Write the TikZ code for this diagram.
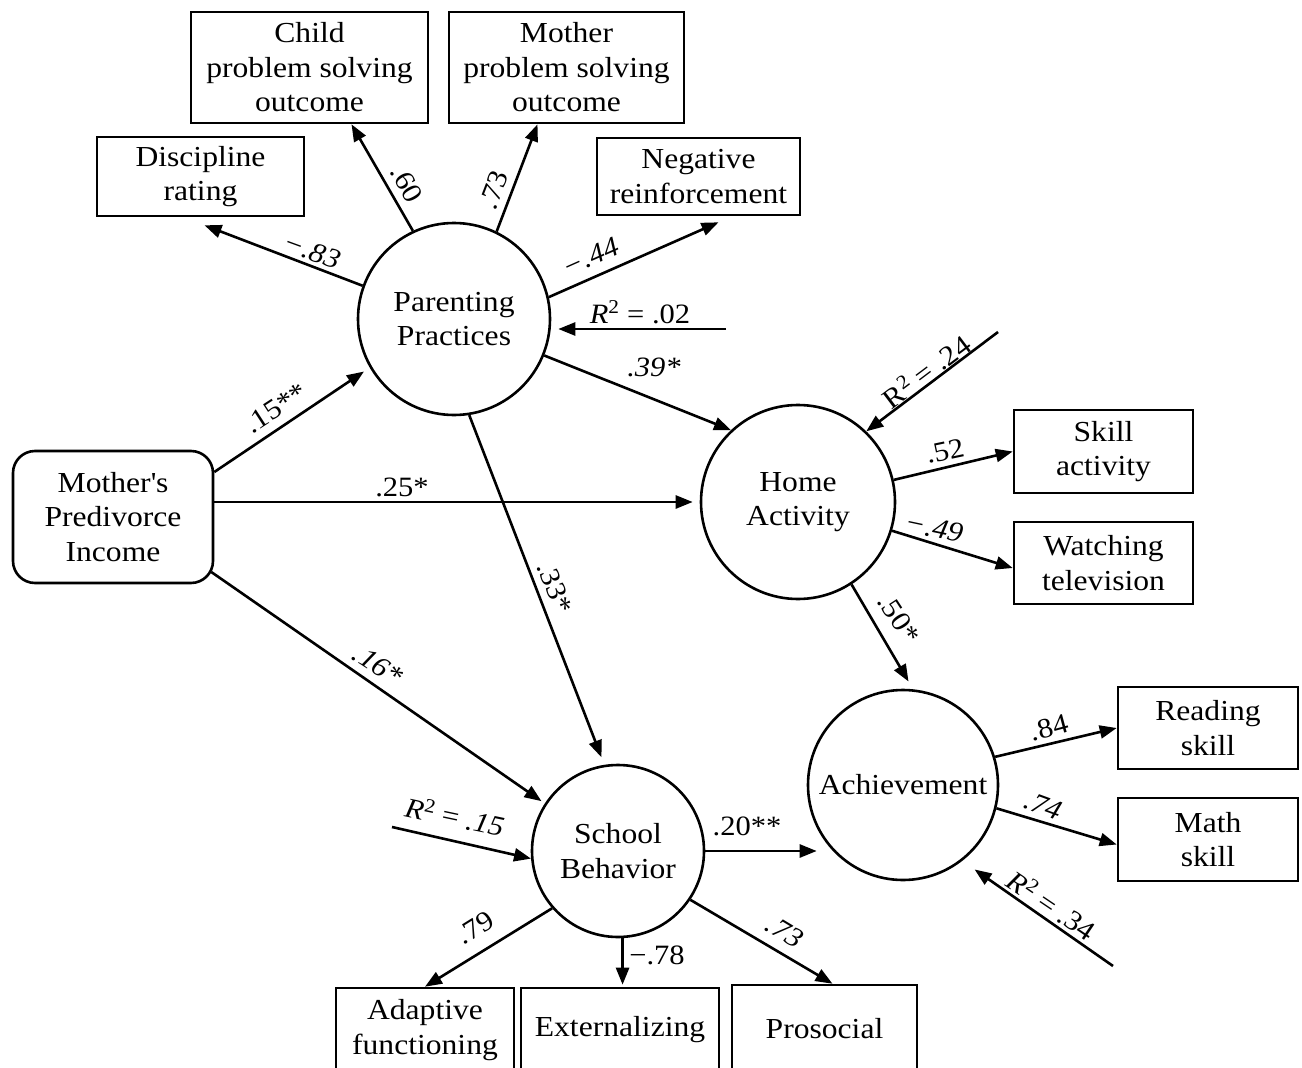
\documentclass[tikz,border=0pt]{standalone}
\usepackage{fontspec}
\setmainfont[FakeStretch=1.09]{Liberation Serif}
\usetikzlibrary{arrows.meta,calc}

\begin{document}
\begin{tikzpicture}[x=1pt,y=-1pt,line width=2.6pt,
  txt/.style={font=\fontsize{29}{34.5}\selectfont},
  box/.style={txt,draw,rectangle,align=center,inner sep=0pt},
  latent/.style={txt,draw,circle,align=center,inner sep=0pt},
  lab/.style={font=\fontsize{28}{30}\selectfont,inner sep=0pt},
  arr/.style={-{Triangle[length=17pt,width=13pt]}}]

\useasboundingbox (0,0) rectangle (1302,1068);
\fill[white] (0,0) rectangle (1302,1068);
\clip (0,0) rectangle (1302,1068);

% indicator boxes
\node[box,minimum width=237pt,minimum height=111pt] (child) at (309.5,67.5) {Child\\problem solving\\outcome};
\node[box,minimum width=235pt,minimum height=111pt] (moth) at (566.5,67.5) {Mother\\problem solving\\outcome};
\node[box,minimum width=207pt,minimum height=79pt] (disc) at (200.5,176.5) {Discipline\\rating};
\node[box,minimum width=203pt,minimum height=77pt] (neg) at (698.5,176.5) {Negative\\reinforcement};
\node[box,minimum width=179pt,minimum height=83pt] (skill) at (1103.5,451.5) {Skill\\activity};
\node[box,minimum width=179pt,minimum height=82pt] (tv) at (1103.5,563) {Watching\\television};
\node[box,minimum width=180pt,minimum height=82pt] (read) at (1208,728) {Reading\\skill};
\node[box,minimum width=180pt,minimum height=83pt] (math) at (1208,839.5) {Math\\skill};
\node[box,minimum width=178pt,minimum height=84pt] (adapt) at (425,1030) {Adaptive\\functioning};
\node[box,minimum width=198pt,minimum height=84pt] (ext) at (620,1030) {Externalizing};
\node[box,minimum width=185pt,minimum height=87pt] (pros) at (824.5,1028.5) {Prosocial};

% observed predictor
\node[box,rounded corners=22pt,minimum width=200pt,minimum height=132pt] (inc) at (113,517) {Mother\textquotesingle s\\Predivorce\\Income};

% latent constructs
\node[latent,minimum size=192pt] (pp) at (454,319) {Parenting\\Practices};
\node[latent,minimum size=194pt] (ha) at (798,502) {Home\\Activity};
\node[latent,minimum size=172pt] (sb) at (618,851) {School\\Behavior};
\node[latent,minimum size=190pt] (ach) at (903,785) {Achievement};

% residual arrow origins
\coordinate (r1) at (726,329);
\coordinate (r2) at (998,332);
\coordinate (r3) at (392,827);
\coordinate (r4) at (1113,966);

% measurement paths
\draw[arr] (pp.160) -- ($(disc.south)+(4,8)$);
\draw[arr] (pp.115) -- ($(child.south)+(42,0)$);
\draw[arr] (pp.64) -- ($(moth.south)+(-29,0)$);
\draw[arr] (pp.13) -- ($(neg.south)+(20,6)$);
\draw[arr] (ha.13) -- (skill.west);
\draw[arr] (ha.-17.5) -- ($(tv.west)+(0,5)$);
\draw[arr] (ach.17) -- (read.west);
\draw[arr] (ach.-14) -- ($(math.west)+(0,5)$);
\draw[arr] (sb.221) -- (adapt.north);
\draw[arr,shorten >=2pt] (sb.-87) -- (sb.-87 |- ext.north);
\draw[arr] (sb.-34) -- ($(pros.north)+(8,0)$);

% structural paths
\draw[arr,shorten >=7pt] ($(inc.east)+(0,-45)$) -- (pp.210);
\draw[arr,shorten >=7pt] (inc.east |- ha.west) -- (ha.west);
\draw[arr,shorten >=4pt] ($(inc.east)+(-3,55)$) -- (sb.147);
\draw[arr] (pp.-22) -- (ha.133);
\draw[arr,shorten >=8pt] (pp.-81) -- (sb.99);
\draw[arr,shorten >=-10pt] (sb.east) -- (sb.east -| ach.west);
\draw[arr,shorten >=9pt] (ha.-57) -- (ach.84);

% residuals
\draw[arr,shorten >=7pt] (r1) -- (r1 -| pp.east);
\draw[arr] (r2) -- (ha.46);
\draw[arr] (r3) -- (sb.185);
\draw[arr,shorten >=15pt] (r4) -- (ach.-52);

% coefficients
\node[lab,rotate=-20] (c1) at (312,251) {\itshape −.83};
\node[lab,rotate=-61] (c2) at (407,184) {.60};
\node[lab,rotate=69] (c3) at (494,190) {.73};
\node[lab,rotate=24] (c4) at (591,257) {\itshape −.44};
\node[lab,anchor=base] (c5) at (640,323) {\textit{R}\textsuperscript{2} = .02};
\node[lab] (c6) at (654,367) {\itshape .39*};
\node[lab,rotate=-69] (c7) at (555,588) {.33*};
\node[lab,rotate=33] (c8) at (276,408) {.15**};
\node[lab] (c9) at (402,487) {.25*};
\node[lab,rotate=-33] (c10) at (378,665) {\itshape .16*};
\node[lab,rotate=-12] (c11) at (455,816) {\textit{R}\textsuperscript{2} = \textit{.15}};
\node[lab] (c12) at (747,826) {.20**};
\node[lab,rotate=32] (c13) at (475,928) {.79};
\node[lab] (c14) at (657,955) {−.78};
\node[lab,rotate=-31] (c15) at (785,932) {\itshape .73};
\node[lab,rotate=12] (c16) at (945,451) {.52};
\node[lab,rotate=-12] (c17) at (934,528) {\itshape −.49};
\node[lab,rotate=-57] (c18) at (899,619) {.50*};
\node[lab,rotate=37] (c19) at (926,371) {R\textsuperscript{2} = .24};
\node[lab,rotate=15] (c20) at (1049,728) {.84};
\node[lab,rotate=-20] (c21) at (1043,806) {\itshape .74};
\node[lab,rotate=-34] (c22) at (1052,905) {\textit{R}\textsuperscript{2} = .34};

\end{tikzpicture}
\end{document}
